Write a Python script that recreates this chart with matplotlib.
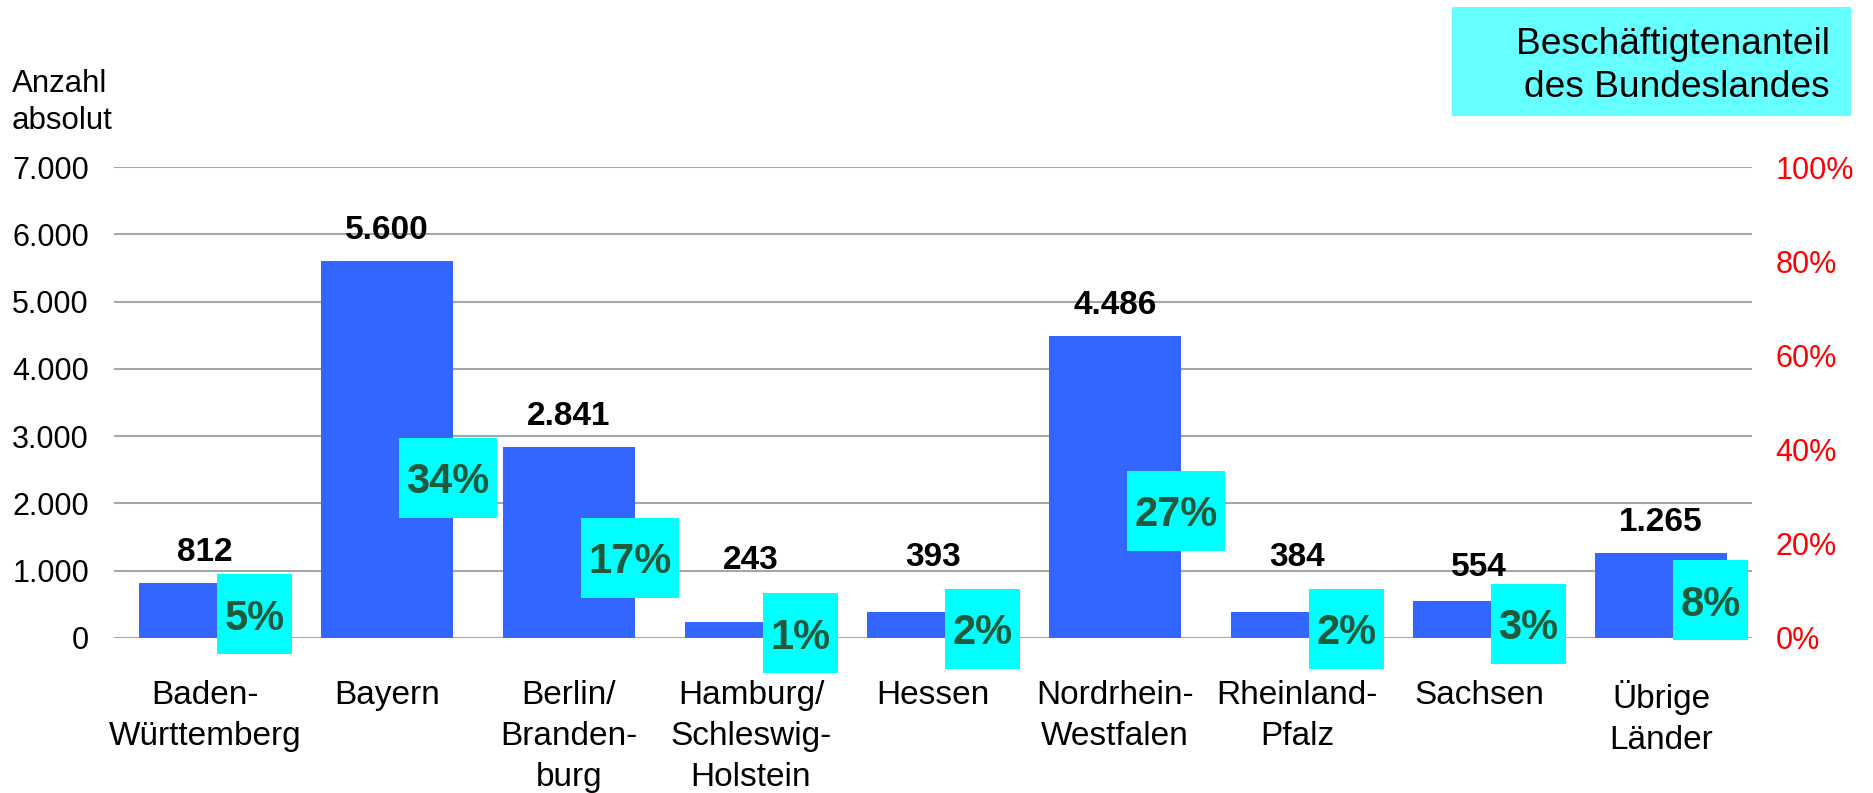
import matplotlib.pyplot as plt
from matplotlib.patches import Rectangle
from matplotlib.transforms import IdentityTransform
import numpy as np

plt.rcParams['font.family'] = ['Liberation Sans', 'DejaVu Sans']

laender = ['Baden-\nWürttemberg', 'Bayern', 'Berlin/\nBranden-\nburg',
           'Hamburg/\nSchleswig-\nHolstein', 'Hessen', 'Nordrhein-\nWestfalen',
           'Rheinland-\nPfalz', 'Sachsen', 'Übrige\nLänder']
anzahl = [812, 5600, 2841, 243, 393, 4486, 384, 554, 1265]
anteil = [5, 34, 17, 1, 2, 27, 2, 3, 8]
y_ticks = [0, 1000, 2000, 3000, 4000, 5000, 6000, 7000]
pct_ticks = [0, 20, 40, 60, 80, 100]

# extra lift (points) for value labels that were pushed up above the cyan boxes
label_lift = [0, 0, 0, 22, 17, 0, 17, 2, 0]


def punkt(v):
    return f'{v:,}'.replace(',', '.')


fig = plt.figure(figsize=(18.74, 7.93), dpi=100)
ax = fig.add_axes([0.0608, 0.1955, 0.8741, 0.5939])
x = np.arange(len(laender))

ax.bar(x, anzahl, width=0.725, color='#3366FF', zorder=2)
ax.set_xlim(-0.5, len(laender) - 0.5)
ax.set_ylim(0, 7000)
ax.set_yticks(y_ticks)
ax.set_yticklabels([punkt(v) for v in y_ticks])
ax.grid(axis='y', color='#A6A6A6', linewidth=1.5, zorder=0)
ax.set_axisbelow(True)
ax.set_xticks(x)
ax.set_xticklabels(laender, linespacing=1.43)
ax.tick_params(axis='y', length=0, pad=18, labelsize=22)
ax.tick_params(axis='x', length=0, pad=30, labelsize=24)
for s in ax.spines.values():
    s.set_visible(False)

for i, v in enumerate(anzahl):
    ax.annotate(punkt(v), (i, v), xytext=(0, 16 + label_lift[i]),
                textcoords='offset points', ha='center', va='baseline',
                fontsize=24, fontweight='bold', zorder=3)

ax2 = ax.twinx()
ax2.set_ylim(0, 100)
ax2.set_yticks(pct_ticks)
ax2.set_yticklabels([f'{p}%' for p in pct_ticks])
ax2.tick_params(axis='y', length=0, pad=17, labelsize=22, labelcolor='red')
for s in ax2.spines.values():
    s.set_visible(False)

pct_texts = []
for i, p in enumerate(anteil):
    t = ax2.annotate(f'{p}%', (i, p), xytext=(14, -11), textcoords='offset points',
                     ha='left', va='baseline', fontsize=30, fontweight='bold',
                     color='#1F5A3C', zorder=5)
    pct_texts.append(t)

# cyan boxes behind the percentage labels (more vertical padding than bbox allows)
fig.canvas.draw()
for i, (t, p) in enumerate(zip(pct_texts, anteil)):
    bb = t.get_window_extent()
    _, yc = ax2.transData.transform((i, p))
    rect = Rectangle((bb.x0 - 7.5, yc - 40), bb.width + 15, 80,
                     transform=IdentityTransform(), facecolor='#00FFFF',
                     edgecolor='none', zorder=4)
    ax2.add_artist(rect)
    rect.set_clip_on(False)

fig.text(12 / 1874, 1 - 69 / 793, 'Anzahl\nabsolut', ha='left', va='top',
         fontsize=22.5, linespacing=1.3)

fig.patches.append(Rectangle((1452 / 1874, 1 - 116 / 793), 399 / 1874, 109 / 793,
                             transform=fig.transFigure, facecolor='#66FFFF',
                             edgecolor='none'))
fig.text(1830 / 1874, 1 - 66 / 793, 'Beschäftigtenanteil\ndes Bundeslandes',
         ha='right', va='center', multialignment='right', fontsize=26.7,
         linespacing=1.3)

fig.savefig('out.png', dpi=100)
